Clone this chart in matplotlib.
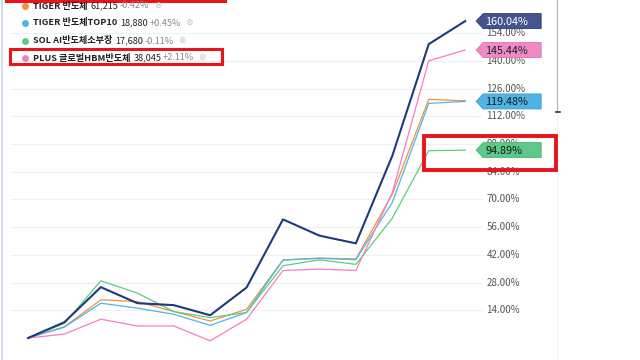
import matplotlib
matplotlib.use("Agg")
import matplotlib.pyplot as plt
from matplotlib import transforms
from matplotlib.patches import Polygon, Rectangle
from matplotlib.lines import Line2D

plt.rcParams['font.family'] = ['Noto Sans CJK KR', 'DejaVu Sans']

# 데이터 (그림에서 읽은 누적 수익률, %)
x = list(range(13))
navy = [0, 8.0, 25.7, 17.6, 16.6, 11.5, 25.5, 59.9, 51.7, 47.8, 92.0, 148.4, 160.04]
orange = [0, 5.7, 19.3, 18.4, 13.4, 8.6, 14.5, 39.4, 40.4, 39.9, 72.6, 120.5, 119.8]
blue = [0, 5.5, 17.6, 15.1, 12.0, 6.4, 12.9, 39.4, 40.2, 39.6, 68.5, 118.5, 119.48]
green = [0, 7.4, 28.9, 22.7, 13.4, 10.3, 12.9, 36.5, 39.5, 37.2, 60.5, 94.6, 94.89]
pink = [0, 2.0, 9.5, 6.1, 6.1, -1.4, 9.5, 34.1, 34.8, 34.1, 73.4, 140.0, 145.44]

y_ticks = [14, 28, 42, 56, 70, 84, 98, 112, 126, 140, 154]

legend_names = ['TIGER 반도체', 'TIGER 반도체TOP10', 'SOL AI반도체소부장', 'PLUS 글로벌HBM반도체']
legend_prices = ['61,215', '18,880', '17,680', '38,045']
legend_pcts = ['-0.42%', '+0.45%', '-0.11%', '+2.11%']
legend_colors = ['#f0913a', '#4bb5e8', '#5ccc7f', '#f47fc0']

W, H = 640, 360
fig = plt.figure(figsize=(6.4, 3.6), dpi=100)
ax = fig.add_axes([0, 0, 1, 1])
ax.set_xlim(-0.769, 16.80)
ax.set_ylim(-11.1, 170.7)
ax.axis('off')


def px(xp, yp):
    return xp / W, 1 - yp / H


# 그리드 + 눈금 라벨
for t in y_ticks:
    ax.hlines(t, -0.49, 12.47, color='#eef0f4', lw=0.9, zorder=1)
    ax.text(12.58, t, f'{t:.2f}%', fontsize=7, color='#555555', va='center', ha='left', zorder=2)

# 선
series = [(orange, '#f0913a', 0.9), (blue, '#4bb5e8', 0.9), (green, '#5ccc7f', 0.9),
          (pink, '#f47fc0', 0.9), (navy, '#1f3a7a', 1.5)]
for vals, col, lw in series:
    ax.plot(x, vals, color=col, lw=lw, zorder=3)

# 끝 값 태그
tags = [(navy, '#44548f', '#2f3d70', 'white'), (pink, '#f08ac6', '#e070b0', '#222222'),
        (blue, '#4fb3e3', '#3a9fd0', '#1a1a1a'), (green, '#5cc88a', '#48b574', '#1a1a1a')]
for vals, fc, ec, tc in tags:
    v = vals[-1]
    tr = fig.dpi_scale_trans + transforms.ScaledTranslation(x[-1], v, ax.transData)
    verts = [(11, 0), (18, 7.5), (76, 7.5), (76, -7.5), (18, -7.5)]
    verts = [(a / 100, b / 100) for a, b in verts]
    ax.add_patch(Polygon(verts, closed=True, transform=tr, fc=fc, ec=ec, lw=0.6, zorder=5))
    ax.annotate(f'{v:.2f}%', xy=(x[-1], v), xytext=(20, -0.5), textcoords='offset pixels',
                fontsize=7.8, color=tc, va='center', ha='left', zorder=6)

# 범례 (텍스트)
renderer = fig.canvas.get_renderer()
rows_y = [6, 23, 41, 58]
for i in range(4):
    yy = rows_y[i]
    fig.add_artist(Line2D([25 / W], [1 - yy / H], marker='o', ms=5, color=legend_colors[i],
                          mec='none', transform=fig.transFigure))
    t1 = fig.text(*px(33, yy), legend_names[i], fontsize=6.6, fontweight='bold', color='#222222', va='center')
    bb = t1.get_window_extent(renderer)
    t2 = fig.text((bb.x1 + 3) / W, 1 - yy / H, legend_prices[i], fontsize=6.6, color='#222222', va='center')
    bb = t2.get_window_extent(renderer)
    t3 = fig.text((bb.x1 + 1.5) / W, 1 - yy / H, legend_pcts[i], fontsize=6.6, color='#888888', va='center')
    bb = t3.get_window_extent(renderer)
    fig.text((bb.x1 + 5) / W, 1 - yy / H, '⊗', fontsize=5.5, color='#bbbbbb', va='center')

# 테두리 / 표시
fig.add_artist(Line2D([1.5 / W, 1.5 / W], [0, 1], color='#c8d4e6', lw=1.2))
fig.add_artist(Line2D([556.5 / W, 556.5 / W], [1, 1 - 112 / H], color='#b0b0b0', lw=0.8))
fig.add_artist(Line2D([556.5 / W, 556.5 / W], [1 - 112 / H, 0], color='#f0f0f0', lw=0.8))
fig.add_artist(Line2D([556 / W, 560 / W], [1 - 112 / H, 1 - 112 / H], color='#333333', lw=1.2))

red = '#e8141c'
fig.add_artist(Rectangle(px(10, 64), 212 / W, 15 / H, fill=False, ec=red, lw=2.2, zorder=10))
fig.add_artist(Rectangle(px(424, 170), 132 / W, 34 / H, fill=False, ec=red, lw=2.8, zorder=10))
fig.add_artist(Line2D([6 / W, 225 / W], [1 - 0.8 / H, 1 - 0.8 / H], color=red, lw=2.2))

fig.savefig('out.png', dpi=100)
